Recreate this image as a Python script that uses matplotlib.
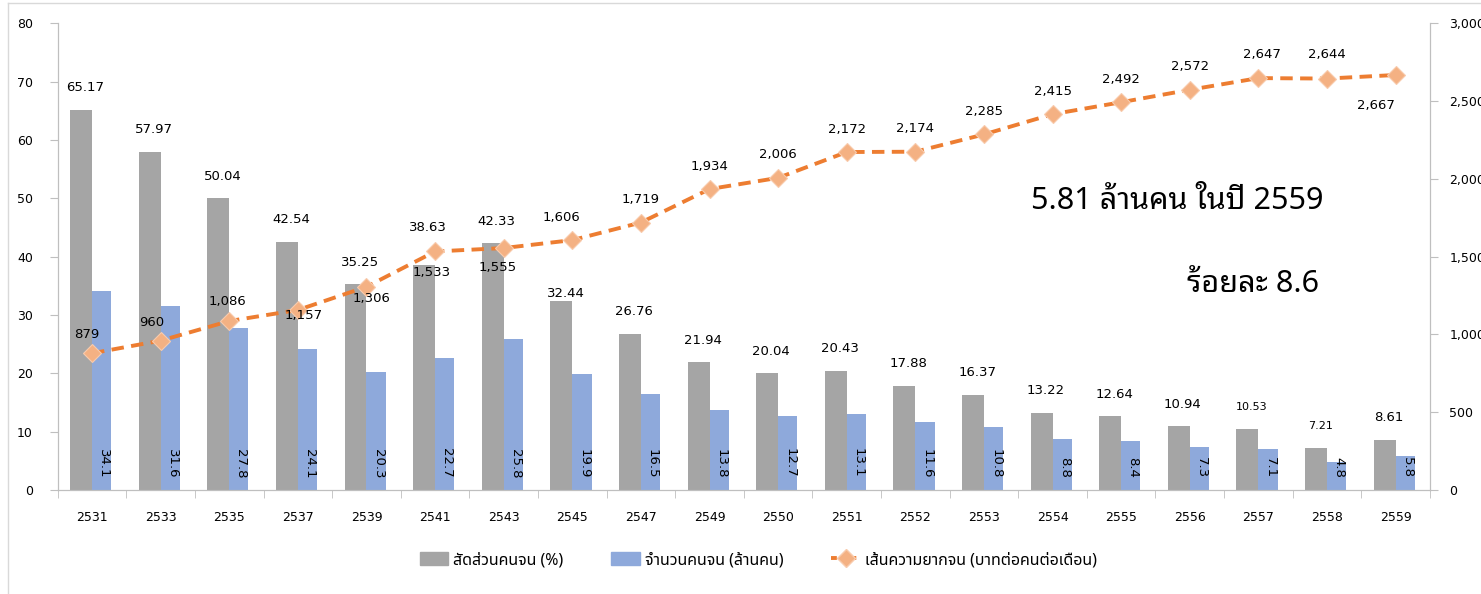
import matplotlib
matplotlib.use('Agg')
import matplotlib.pyplot as plt
from matplotlib.patches import Patch
from matplotlib.lines import Line2D
import numpy as np

years = ['2531', '2533', '2535', '2537', '2539', '2541', '2543', '2545', '2547', '2549',
         '2550', '2551', '2552', '2553', '2554', '2555', '2556', '2557', '2558', '2559']
poor_pct = [65.17, 57.97, 50.04, 42.54, 35.25, 38.63, 42.33, 32.44, 26.76, 21.94,
            20.04, 20.43, 17.88, 16.37, 13.22, 12.64, 10.94, 10.53, 7.21, 8.61]
poor_num = [34.1, 31.6, 27.8, 24.1, 20.3, 22.7, 25.8, 19.9, 16.5, 13.8,
            12.7, 13.1, 11.6, 10.8, 8.8, 8.4, 7.3, 7.1, 4.8, 5.8]
poverty_line = [879, 960, 1086, 1157, 1306, 1533, 1555, 1606, 1719, 1934,
                2006, 2172, 2174, 2285, 2415, 2492, 2572, 2647, 2644, 2667]

lbl_pct = 'สัดส่วนคนจน (%)'
lbl_num = 'จำนวนคนจน (ล้านคน)'
lbl_line = 'เส้นความยากจน (บาทต่อคนต่อเดือน)'
note1 = '5.81 ล้านคน ในปี 2559'
note2 = 'ร้อยละ 8.6'

GRAY = '#A5A5A5'
BLUE = '#8EA9DB'
ORANGE = '#ED7D31'
AXC = '#BFBFBF'
THAI = ['Noto Sans Thai', 'DejaVu Sans']
THAI_LOOP = ['Noto Sans Thai Looped', 'DejaVu Sans']

plt.rcParams['font.family'] = 'DejaVu Sans'

fig = plt.figure(figsize=(14.81, 5.94), dpi=100)
ax = fig.add_axes([0.039, 0.175, 0.9265, 0.786])
ax2 = ax.twinx()
ax.set_zorder(ax2.get_zorder() - 1)
ax.patch.set_visible(False)

x = np.arange(len(years))
ax.bar(x - 0.16, poor_pct, width=0.32, color=GRAY)
ax.bar(x + 0.14, poor_num, width=0.28, color=BLUE)
ax2.plot(x, poverty_line, color=ORANGE, lw=2.8, linestyle=(0, (3.2, 1.9)),
         marker='D', markersize=9, markerfacecolor='#F4B183', markeredgecolor='#F8CBAD',
         markeredgewidth=0.8)

ax.set_xlim(-0.5, len(years) - 0.5)
ax.set_ylim(0, 80)
ax2.set_ylim(0, 3000)
ax.set_yticks(range(0, 81, 10))
ax2.set_yticks(range(0, 3001, 500))
ax2.set_yticklabels(['{:,}'.format(v) for v in range(0, 3001, 500)])

ax.set_xticks(x)
ax.set_xticklabels(years, fontsize=9)
ax.set_xticks(np.arange(-0.5, len(years), 1), minor=True)
ax.tick_params(axis='x', which='major', length=0, pad=15)
ax.tick_params(axis='x', which='minor', length=6, color=AXC)
ax.tick_params(axis='y', length=6, color=AXC, labelsize=9, pad=12)
ax2.tick_params(axis='y', length=6, color=AXC, labelsize=9, pad=8)

for a in (ax, ax2):
    a.spines['top'].set_visible(False)
    for s in ('left', 'right', 'bottom'):
        a.spines[s].set_color(AXC)

# gray bar labels, a couple were moved by hand in the original
pct_dy = [22] * len(years)
pct_dy[5] = 37
pct_dy[7] = 7
for i, v in enumerate(poor_pct):
    fs = 8 if i in (17, 18) else 9.5
    ax.annotate('{:.2f}'.format(v), (x[i] - 0.1, v), xytext=(0, pct_dy[i]),
                textcoords='offset pixels', ha='center', va='center', fontsize=fs)

for i, v in enumerate(poor_num):
    ax.annotate('{:.1f}'.format(v), (x[i] + 0.14, 0), xytext=(2, 12),
                textcoords='offset pixels', ha='center', va='bottom',
                rotation=270, fontsize=9.5)

line_off = [(-5, 19), (-9, 18), (-2, 20), (6, -6), (5, -12), (-3, -21), (-6, -19),
            (-11, 23), (0, 23), (0, 23), (0, 23), (0, 23), (0, 23), (0, 23),
            (0, 23), (0, 23), (0, 23), (4, 24), (0, 24), (-20, -31)]
for i, v in enumerate(poverty_line):
    ax2.annotate('{:,}'.format(v), (x[i], v), xytext=line_off[i],
                 textcoords='offset pixels', ha='center', va='center', fontsize=9.5)

ax.text(17.95, 49.5, note1, ha='right', va='center', fontsize=22, family=THAI_LOOP)
ax.text(17.89, 35.3, note2, ha='right', va='center', fontsize=22, family=THAI_LOOP)

handles = [Patch(color=GRAY), Patch(color=BLUE),
           Line2D([], [], color=ORANGE, lw=2.8, linestyle=(0, (1.5, 1)), marker='D',
                  markersize=9, markerfacecolor='#F4B183', markeredgecolor='#F8CBAD')]
fig.legend(handles, [lbl_pct, lbl_num, lbl_line], loc='center', bbox_to_anchor=(0.512, 0.057),
           ncol=3, frameon=False, prop={'family': THAI, 'size': 11.5},
           handlelength=1.8, handleheight=0.9, handletextpad=0.3, columnspacing=3.0)

# chart area border
fig.add_artist(Line2D([8 / 1481, 8 / 1481], [0, 1 - 3 / 594], color='#D9D9D9', lw=1))
fig.add_artist(Line2D([8 / 1481, 1], [1 - 3 / 594, 1 - 3 / 594], color='#D9D9D9', lw=1))

fig.savefig('out.png')
